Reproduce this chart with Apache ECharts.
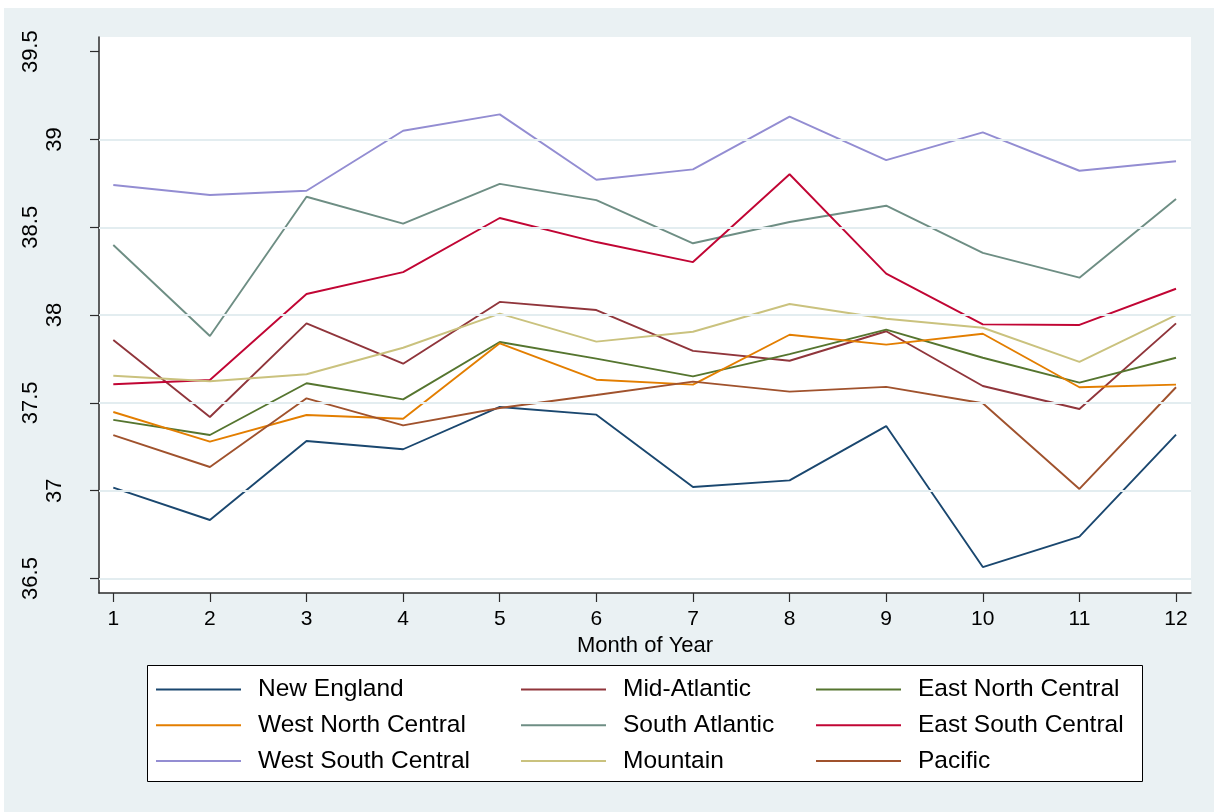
<!DOCTYPE html>
<html>
<head>
<meta charset="utf-8">
<script src="https://cdn.jsdelivr.net/npm/echarts@6/dist/echarts.min.js"></script>
<style>
  html, body { margin: 0; padding: 0; background: #ffffff; }
  #chart { width: 1214px; height: 812px; }
</style>
</head>
<body>
<div id="chart"></div>
<script>
// Average value by month of year, one line per census division
const months = [1, 2, 3, 4, 5, 6, 7, 8, 9, 10, 11, 12];

const newEngland       = [37.017, 36.833, 37.283, 37.236, 37.477, 37.433, 37.021, 37.059, 37.368, 36.565, 36.738, 37.319];
const midAtlantic      = [37.858, 37.420, 37.953, 37.723, 38.075, 38.029, 37.796, 37.740, 37.908, 37.596, 37.465, 37.953];
const eastNorthCentral = [37.403, 37.317, 37.612, 37.520, 37.847, 37.752, 37.651, 37.778, 37.917, 37.757, 37.615, 37.757];
const westNorthCentral = [37.448, 37.279, 37.431, 37.410, 37.839, 37.632, 37.604, 37.888, 37.832, 37.894, 37.589, 37.604];
const southAtlantic    = [38.399, 37.881, 38.674, 38.521, 38.747, 38.655, 38.409, 38.530, 38.623, 38.354, 38.213, 38.661];
const eastSouthCentral = [37.606, 37.630, 38.120, 38.245, 38.553, 38.416, 38.302, 38.802, 38.236, 37.947, 37.944, 38.150];
const westSouthCentral = [38.741, 38.684, 38.708, 39.050, 39.143, 38.771, 38.830, 39.130, 38.883, 39.041, 38.822, 38.876];
const mountain         = [37.655, 37.623, 37.663, 37.814, 38.008, 37.849, 37.905, 38.063, 37.979, 37.928, 37.734, 38.000];
const pacific          = [37.317, 37.135, 37.526, 37.372, 37.471, 37.545, 37.621, 37.564, 37.591, 37.498, 37.010, 37.589];

const yTicks = [36.5, 37, 37.5, 38, 38.5, 39, 39.5];
const yGridValues = [36.5, 37, 37.5, 38, 38.5, 39];
const yOuterLabels = [36.5, 37.5, 38.5, 39.5];

const divisions = [
  { name: 'New England',        values: newEngland,       color: '#1a476f' },
  { name: 'Mid-Atlantic',       values: midAtlantic,      color: '#90353b' },
  { name: 'East North Central', values: eastNorthCentral, color: '#55752f' },
  { name: 'West North Central', values: westNorthCentral, color: '#e37e00' },
  { name: 'South Atlantic',     values: southAtlantic,    color: '#6e8e84' },
  { name: 'East South Central', values: eastSouthCentral, color: '#c10534' },
  { name: 'West South Central', values: westSouthCentral, color: '#938dd2' },
  { name: 'Mountain',           values: mountain,         color: '#cac27e' },
  { name: 'Pacific',            values: pacific,          color: '#a0522d' }
];

const FONT = "'Liberation Sans', Arial, Helvetica, sans-serif";
const AXIS_COLOR = '#2b2b2b';

const lineSeries = divisions.map(d => ({
  name: d.name,
  type: 'line',
  data: months.map((m, i) => [m, d.values[i]]),
  symbol: 'none',
  z: 3,
  lineStyle: { color: d.color, width: 1.9 },
  itemStyle: { color: d.color },
  emphasis: { disabled: true }
}));

// Horizontal grid lines beneath the data lines
const gridSeries = {
  name: 'gridlines',
  type: 'line',
  data: [],
  z: 1,
  silent: true,
  markLine: {
    silent: true,
    symbol: 'none',
    label: { show: false },
    lineStyle: { color: '#e3edf0', width: 2, type: 'solid' },
    emphasis: { disabled: true },
    data: yGridValues.map(v => ({ yAxis: v }))
  }
};

// Legend laid out as three columns of three entries
function legendColumn(names, left) {
  return {
    orient: 'vertical',
    left: left,
    top: 677,
    padding: 0,
    itemGap: 10.8,
    itemWidth: 85,
    itemHeight: 2,
    icon: 'rect',
    selectedMode: false,
    data: names,
    textStyle: {
      fontFamily: FONT,
      fontSize: 24.5,
      color: '#000',
      padding: [0, 0, 0, 12]
    }
  };
}

const option = {
  animation: false,
  backgroundColor: '#ffffff',
  graphic: [
    {
      type: 'rect',
      z: -10,
      shape: { x: 4, y: 8, width: 1210, height: 804 },
      style: { fill: '#eaf1f3' }
    },
    {
      type: 'rect',
      z: 1,
      shape: { x: 147.5, y: 665.5, width: 995, height: 116 },
      style: { fill: '#ffffff', stroke: '#000000', lineWidth: 1 }
    }
  ],
  grid: {
    left: 99,
    top: 37,
    width: 1092,
    height: 556,
    show: true,
    backgroundColor: '#ffffff',
    borderWidth: 0,
    containLabel: false
  },
  xAxis: {
    type: 'value',
    min: 0.852,
    max: 12.155,
    name: 'Month of Year',
    nameLocation: 'middle',
    nameGap: 37,
    nameTextStyle: { fontFamily: FONT, fontSize: 22, color: '#000' },
    axisLine: { show: true, onZero: false, lineStyle: { color: AXIS_COLOR, width: 1.5 } },
    axisTick: { show: true, length: 9, customValues: months, lineStyle: { color: AXIS_COLOR, width: 1.2 } },
    axisLabel: {
      customValues: months,
      margin: 16,
      fontFamily: FONT,
      fontSize: 21,
      color: '#000'
    },
    splitLine: { show: false }
  },
  yAxis: {
    type: 'value',
    min: 36.4174,
    max: 39.5837,
    axisLine: { show: true, onZero: false, lineStyle: { color: AXIS_COLOR, width: 1.5 } },
    axisTick: { show: true, length: 9, customValues: yTicks, lineStyle: { color: AXIS_COLOR, width: 1.2 } },
    axisLabel: {
      customValues: yTicks,
      rotate: 90,
      margin: 33,
      fontFamily: FONT,
      fontSize: 22,
      color: '#000',
      formatter: function (v) {
        const r = Math.round(v * 10) / 10;
        return yOuterLabels.indexOf(r) >= 0 ? '{o|' + r + '}' : '{i|' + r + '}';
      },
      rich: {
        o: { fontFamily: FONT, fontSize: 22, color: '#000', padding: [0, 0, 24, 0] },
        i: { fontFamily: FONT, fontSize: 22, color: '#000' }
      }
    },
    splitLine: { show: false }
  },
  legend: [
    legendColumn(['New England', 'West North Central', 'West South Central'], 156),
    legendColumn(['Mid-Atlantic', 'South Atlantic', 'Mountain'], 521),
    legendColumn(['East North Central', 'East South Central', 'Pacific'], 816)
  ],
  series: [gridSeries].concat(lineSeries)
};

const chart = echarts.init(document.getElementById('chart'), null, { renderer: 'canvas' });
chart.setOption(option);
</script>
</body>
</html>
